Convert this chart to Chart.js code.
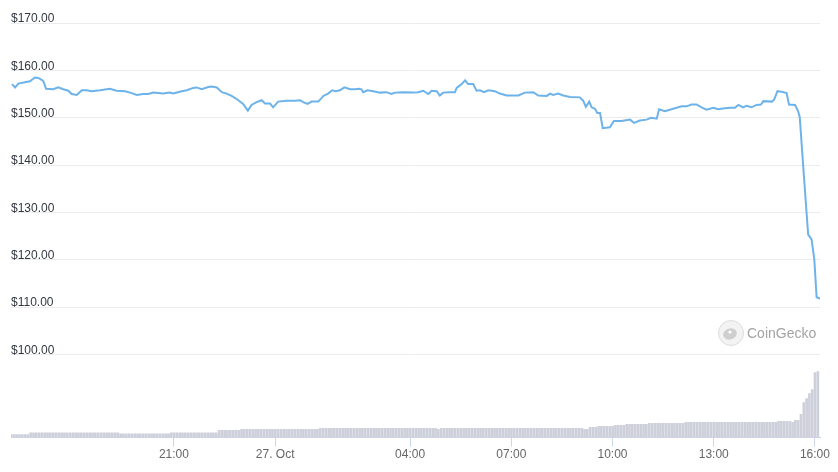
<!DOCTYPE html>
<html>
<head>
<meta charset="utf-8">
<script src="https://cdn.jsdelivr.net/npm/chart.js@4.4.1/dist/chart.umd.min.js"></script>
<style>
  html, body { margin: 0; padding: 0; background: #fff; }
  #wrap { width: 838px; height: 472px; }
</style>
</head>
<body>
<div id="wrap"><canvas id="priceChart"></canvas></div>
<script>
// hours counted from 26 Oct 00:00
const hours = [
  16.20, 16.29, 16.39, 16.58, 16.73, 16.88, 16.98, 17.08, 17.13, 17.21,
  17.42, 17.57, 17.72, 17.87, 17.97, 18.12, 18.27, 18.41, 18.56, 18.81,
  19.10, 19.30, 19.55, 19.70, 19.90, 20.09, 20.24, 20.39, 20.68, 20.88,
  20.98, 21.23, 21.38, 21.57, 21.67, 21.82, 22.02, 22.12, 22.27, 22.42,
  22.56, 22.71, 22.91, 23.05, 23.19, 23.30, 23.45, 23.60, 23.70, 23.85,
  23.94, 24.09, 24.34, 24.59, 24.74, 24.83, 24.96, 25.08, 25.28, 25.43,
  25.57, 25.69, 25.79, 25.92, 26.05, 26.22, 26.37, 26.48, 26.56, 26.61,
  26.74, 26.91, 27.11, 27.30, 27.45, 27.55, 27.80, 28.09, 28.24, 28.39,
  28.54, 28.64, 28.79, 28.88, 28.98, 29.18, 29.33, 29.38, 29.53, 29.63,
  29.72, 29.87, 29.97, 30.07, 30.19, 30.32, 30.51, 30.66, 30.86, 31.21,
  31.40, 31.65, 31.80, 32.05, 32.15, 32.24, 32.39, 32.54, 32.74, 33.03,
  33.13, 33.21, 33.31, 33.38, 33.48, 33.55, 33.63, 33.71, 33.92, 34.04,
  34.20, 34.27, 34.52, 34.64, 34.81, 35.01, 35.14, 35.31, 35.38, 35.55,
  35.70, 35.90, 36.05, 36.20, 36.34, 36.49, 36.64, 36.79, 36.99, 37.13,
  37.33, 37.48, 37.63, 37.73, 37.87, 37.97, 38.12, 38.27, 38.40, 38.47,
  38.72, 38.79, 38.89, 39.01, 39.16, 39.23, 39.41, 39.50, 39.55, 39.65,
  39.75, 39.80, 39.90, 39.98, 40.05, 40.15
];

const prices = [
  157.1, 156.4, 157.2, 157.5, 157.7, 158.5, 158.4, 158.0, 157.7, 156.1,
  156.0, 156.4, 156.0, 155.7, 155.0, 154.8, 155.8, 155.8, 155.6, 155.8,
  156.1, 155.7, 155.6, 155.3, 154.8, 155.0, 155.0, 155.3, 155.1, 155.3,
  155.1, 155.6, 155.8, 156.3, 156.4, 156.0, 156.5, 156.6, 156.4, 155.4,
  155.1, 154.6, 153.7, 152.9, 151.5, 152.7, 153.3, 153.7, 153.0, 153.0,
  152.2, 153.4, 153.6, 153.6, 153.7, 153.3, 152.9, 153.4, 153.4, 154.6,
  155.1, 155.8, 155.6, 155.8, 156.4, 156.0, 156.0, 156.1, 156.0, 155.4,
  155.8, 155.6, 155.3, 155.4, 155.0, 155.3, 155.4, 155.3, 155.4, 155.7,
  155.0, 155.7, 155.6, 154.7, 155.3, 155.4, 155.4, 156.3, 157.1, 157.9,
  157.1, 157.1, 155.7, 155.8, 155.4, 155.8, 155.6, 155.1, 154.7, 154.7,
  155.3, 155.4, 154.7, 154.6, 155.1, 154.8, 155.1, 154.7, 154.4, 154.3,
  153.6, 152.3, 153.4, 152.2, 151.9, 151.0, 151.0, 147.8, 148.0, 149.3,
  149.3, 149.3, 149.6, 148.9, 149.4, 149.6, 150.0, 149.8, 151.8, 151.4,
  151.7, 152.1, 152.4, 152.4, 152.8, 152.8, 152.2, 151.7, 152.1, 151.8,
  152.0, 152.1, 152.1, 152.7, 152.2, 152.5, 152.2, 152.7, 152.8, 153.5,
  153.4, 153.8, 155.6, 155.5, 155.2, 152.8, 152.7, 151.4, 150.1, 140.0,
  130.1, 125.3, 124.3, 120.2, 112.1, 111.8
];

// 5 minute volume bars (USD millions), one row per hour
const VOL_START = 16.17;
const VOL_STEP = 5 / 60;
const volumes = [
  150, 150, 150, 150, 150, 150, 150, 235, 235, 235, 235, 235,
  235, 235, 235, 235, 235, 235, 235, 235, 235, 235, 235, 235,
  235, 235, 235, 235, 235, 235, 235, 235, 235, 235, 235, 235,
  235, 235, 235, 185, 185, 185, 185, 185, 185, 185, 185, 185,
  185, 185, 185, 185, 185, 185, 185, 185, 185, 235, 235, 235,
  235, 235, 235, 235, 235, 235, 235, 235, 235, 235, 235, 235,
  235, 235, 365, 365, 365, 365, 365, 365, 365, 365, 415, 415,
  415, 415, 415, 415, 415, 415, 415, 415, 415, 415, 415, 415,
  415, 415, 415, 415, 415, 415, 415, 415, 415, 415, 415, 415,
  415, 415, 465, 465, 465, 465, 465, 465, 465, 465, 465, 465,
  465, 465, 465, 465, 465, 465, 465, 465, 465, 465, 465, 465,
  465, 465, 465, 465, 465, 465, 465, 465, 465, 465, 465, 465,
  465, 465, 465, 465, 465, 465, 465, 465, 415, 465, 465, 465,
  465, 465, 465, 465, 465, 465, 465, 465, 465, 465, 465, 465,
  465, 465, 465, 465, 465, 465, 465, 465, 465, 465, 465, 465,
  465, 465, 465, 465, 465, 465, 465, 465, 465, 465, 465, 465,
  465, 465, 465, 465, 465, 465, 465, 465, 465, 465, 465, 465,
  415, 415, 515, 515, 515, 565, 565, 565, 565, 565, 565, 615,
  615, 615, 615, 665, 665, 665, 665, 665, 665, 665, 665, 715,
  715, 715, 715, 715, 715, 715, 715, 715, 715, 715, 715, 715,
  765, 765, 765, 765, 765, 765, 765, 765, 765, 765, 765, 765,
  765, 765, 765, 765, 765, 765, 765, 765, 765, 765, 765, 765,
  765, 765, 765, 765, 765, 765, 765, 765, 765, 815, 815, 815,
  815, 815, 765, 865, 865, 1165, 1750, 1950, 2200, 2400, 3250, 3300
];

const priceTicks = [100, 110, 120, 130, 140, 150, 160, 170];
const tickHours = [21, 24, 28, 31, 34, 37, 40];
const tickLabels = ["21:00", "27. Oct", "04:00", "07:00", "10:00", "13:00", "16:00"];

let linePoints = hours.map((h, i) => ({ x: h, y: prices[i] }));
let volPoints = volumes.map((v, i) => ({ x: VOL_START + i * VOL_STEP, y: v }));

const watermark = {
  id: "watermark",
  afterDraw(chart) {
    let ctx = chart.ctx;
    let cx = chart.chartArea.right - 89;
    let cy = 333;
    ctx.save();
    ctx.beginPath();
    ctx.arc(cx, cy, 12.5, 0, Math.PI * 2);
    ctx.fillStyle = "#f3f3f3";
    ctx.fill();
    ctx.strokeStyle = "#dcdcdc";
    ctx.lineWidth = 1;
    ctx.stroke();
    // gecko head
    ctx.beginPath();
    ctx.ellipse(cx - 1, cy + 1, 7, 5.5, -0.3, 0, Math.PI * 2);
    ctx.fillStyle = "#cfcfcf";
    ctx.fill();
    ctx.beginPath();
    ctx.arc(cx - 1, cy - 1, 1.6, 0, Math.PI * 2);
    ctx.fillStyle = "#ffffff";
    ctx.fill();
    ctx.fillStyle = "#a3a3a3";
    ctx.font = "14px 'Liberation Sans', Arial, sans-serif";
    ctx.textBaseline = "middle";
    ctx.textAlign = "left";
    ctx.fillText("CoinGecko", cx + 16, cy + 1);
    ctx.restore();
  }
};

new Chart(document.getElementById("priceChart"), {
  data: {
    datasets: [
      {
        type: "line",
        data: linePoints,
        borderColor: "#6db3ea",
        borderWidth: 2,
        pointRadius: 0,
        tension: 0,
        yAxisID: "y",
        order: 0
      },
      {
        type: "bar",
        data: volPoints,
        backgroundColor: "#cdd0da",
        barThickness: 2,
        yAxisID: "yVol",
        order: 1
      }
    ]
  },
  options: {
    responsive: true,
    maintainAspectRatio: false,
    animation: false,
    layout: { padding: { left: 11, right: 18, top: 23, bottom: 9 } },
    plugins: {
      legend: { display: false },
      tooltip: { enabled: false }
    },
    scales: {
      x: {
        type: "linear",
        min: 16.17,
        max: 40.15,
        offset: false,
        afterBuildTicks: (axis) => {
          axis.ticks = tickHours.map((h) => ({ value: h }));
        },
        grid: {
          offset: false,
          drawOnChartArea: false,
          drawTicks: true,
          tickLength: 9,
          color: "#ccd6eb"
        },
        border: { display: true, color: "#ccd6eb" },
        ticks: {
          padding: 1,
          maxRotation: 0,
          autoSkip: false,
          color: "#666666",
          font: { family: "'Liberation Sans', Arial, sans-serif", size: 12 },
          callback: (value) => {
            let i = tickHours.indexOf(value);
            return i >= 0 ? tickLabels[i] : "";
          }
        }
      },
      y: {
        position: "left",
        min: 82.46,
        max: 170,
        afterBuildTicks: (axis) => {
          axis.ticks = priceTicks.map((v) => ({ value: v }));
        },
        grid: { drawTicks: false, color: "#ececec" },
        border: { display: false },
        ticks: {
          mirror: true,
          padding: 0,
          labelOffset: -4,
          color: "#333840",
          font: { family: "'Liberation Sans', Arial, sans-serif", size: 12 },
          callback: (value) => "$" + value.toFixed(2)
        }
      },
      yVol: {
        position: "right",
        display: false,
        min: 0,
        max: 20700
      }
    }
  },
  plugins: [watermark]
});
</script>
</body>
</html>
